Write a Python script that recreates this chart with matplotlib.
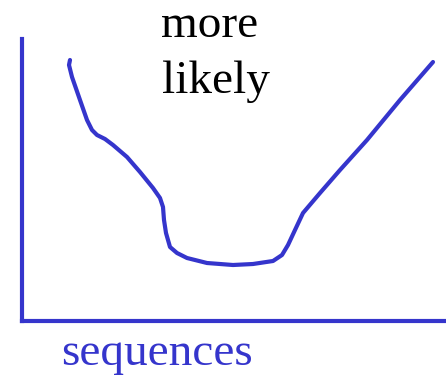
import matplotlib.pyplot as plt

# Hand-drawn likelihood curve over the sequence axis
seq_pos = [48, 47, 50, 58, 65, 70, 75, 83, 91, 105, 118, 131, 138, 141, 142,
           144, 148, 155, 165, 185, 211, 231, 251, 260, 266, 273, 281, 298,
           318, 345, 378, 411]
likelihood = [261, 256, 244, 221, 201, 191, 186, 182, 176, 164, 149, 133, 123,
              114, 101, 88, 74, 68, 63, 58, 56, 57, 60, 66, 76, 91, 108, 128,
              151, 181, 221, 259]

x_label = "sequences"
y_label_lines = ["more", "likely"]

BLUE = "#3535cc"
W, H = 446, 378

fig = plt.figure(figsize=(W / 100, H / 100), dpi=100)
fig.patch.set_facecolor("white")

# axes box: left spine at x=22px, bottom spine at y=321px
left, bottom, top = 22, 321, 39
ax = fig.add_axes([left / W, 1 - bottom / H, 1 - left / W, (bottom - top) / H])
ax.set_xlim(0, W - left)
ax.set_ylim(0, bottom - top)

ax.plot(seq_pos, likelihood, color=BLUE, lw=3.0, solid_capstyle="round",
        solid_joinstyle="round")

for side in ["top", "right"]:
    ax.spines[side].set_visible(False)
for side in ["left", "bottom"]:
    ax.spines[side].set_color(BLUE)
    ax.spines[side].set_linewidth(3.0)
ax.set_xticks([])
ax.set_yticks([])

font = dict(family="Liberation Serif", fontsize=34)
fig.text(161 / W, 1 - 37 / H, y_label_lines[0], color="black", va="baseline", **font)
fig.text(162 / W, 1 - 93 / H, y_label_lines[1], color="black", va="baseline", **font)
fig.text(61 / W, 1 - 365 / H, x_label, color=BLUE, va="baseline", **font)

fig.savefig("out.png", dpi=100)
